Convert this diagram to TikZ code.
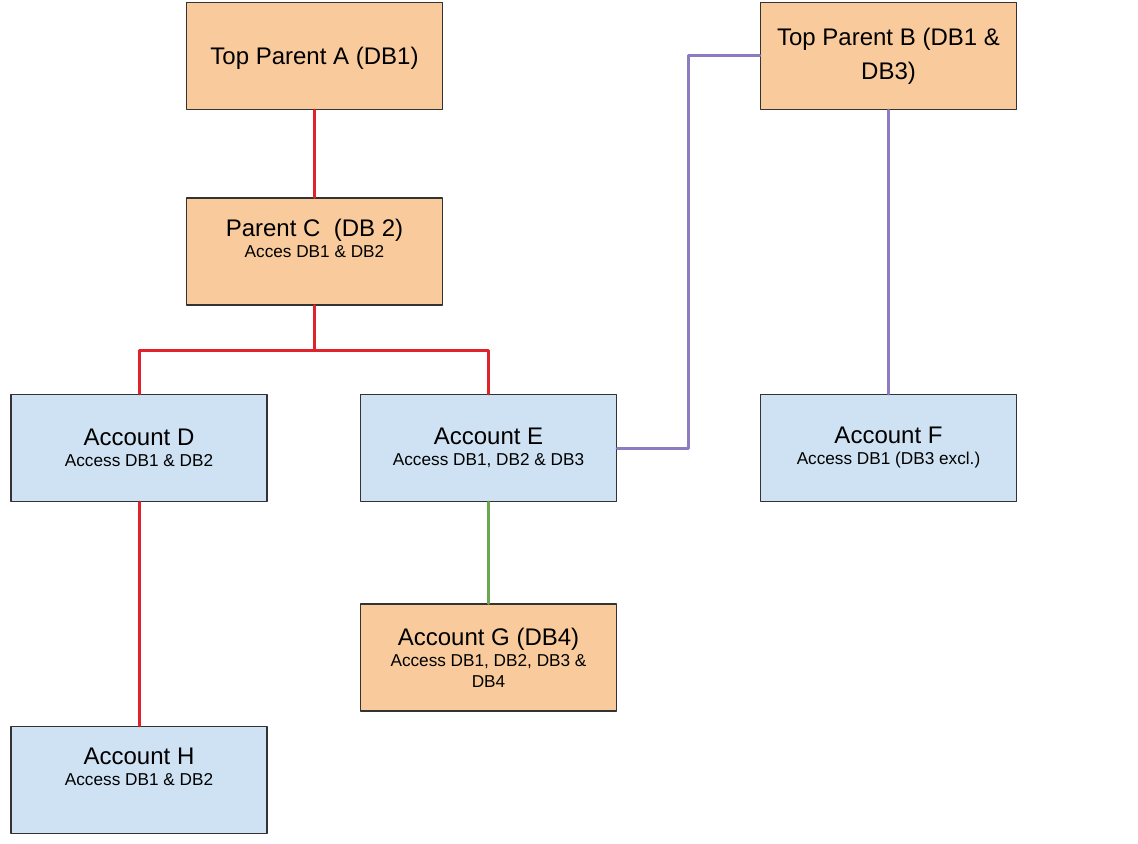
\documentclass[tikz,border=0pt]{standalone}
\usepackage{fontspec}
\setmainfont{Liberation Sans}
\definecolor{boxorange}{HTML}{F9CB9C}
\definecolor{boxblue}{HTML}{CFE2F3}
\definecolor{linered}{HTML}{E0232B}
\definecolor{linepurple}{HTML}{8E7CC3}
\definecolor{linegreen}{HTML}{6AA84F}
\definecolor{boxborder}{HTML}{333333}
\newcommand{\accesstext}[1]{{\fontsize{8.6}{10.5}\selectfont #1}}
\begin{document}
\begin{tikzpicture}[line cap=round,line join=round,x=0.5pt,y=-0.5pt,
		dbbox/.style={draw=boxborder,line width=0.7pt,minimum width=128pt,minimum height=53.5pt,inner sep=0pt,align=center,font=\fontsize{12}{10.5}\selectfont},
		parentbox/.style={dbbox,fill=boxorange},
		accountbox/.style={dbbox,fill=boxblue},
		redlink/.style={draw=linered,line width=1.5pt},
		purplelink/.style={draw=linepurple,line width=1.5pt},
		greenlink/.style={draw=linegreen,line width=1.5pt}]
		\useasboundingbox (0,0) rectangle (1138,844);
		\node [parentbox,text depth=0pt] (topa) at (314.5,56) {Top Parent A (DB1)};
		\node [parentbox] (topb) at (888.5,56) {Top Parent B (DB1 \&\\[5pt]DB3)};
		\node [parentbox] (parc) at (314.5,251.5) {Parent C~ (DB 2)\\\accesstext{Acces DB1 \& DB2}\\[3pt]\mbox{}};
		\node [accountbox] (accd) at (139,448) {Account D\\\accesstext{Access DB1 \& DB2}};
		\node [accountbox] (acce) at (488.5,448) {Account E\\\accesstext{Access DB1, DB2 \& DB3}};
		\node [accountbox] (accf) at (888.5,448) {Account F\\\accesstext{Access DB1 (DB3 excl.)}};
		\node [parentbox] (accg) at (488.5,657.5) {Account G (DB4)\\\accesstext{Access DB1, DB2, DB3 \&}\\\accesstext{DB4}};
		\node [accountbox] (acch) at (139,780) {Account H\\\accesstext{Access DB1 \& DB2}\\[3pt]\mbox{}};
		\coordinate (cfork) at (314.5,350);
		\coordinate (ebend) at (688,448);
		\draw [redlink] (topa)-- (parc);
		\draw [redlink] (parc)-- (cfork) -| (accd);
		\draw [redlink] (cfork) -| (acce);
		\draw [redlink] (accd)-- (acch);
		\draw [greenlink] (acce)-- (accg);
		\draw [purplelink] (acce)-- (ebend) |- (topb);
		\draw [purplelink] (topb)-- (accf);
		\end{tikzpicture}
\end{document}
